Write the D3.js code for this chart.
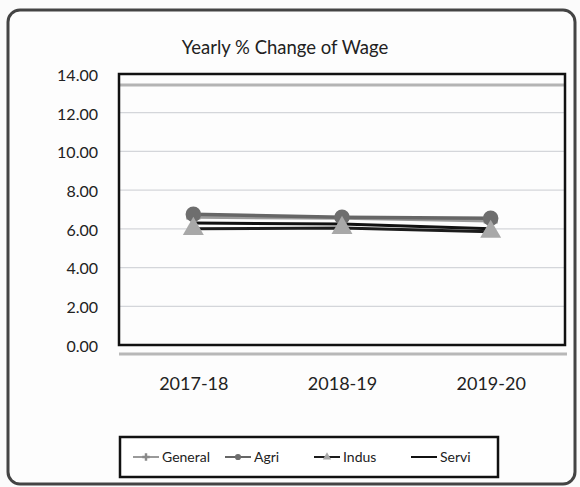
<!DOCTYPE html>
<html>
<head>
<meta charset="utf-8">
<script src="https://cdn.jsdelivr.net/npm/d3@7"></script>
<style>
    body { margin: 0; background: #fbfbfb; }
    text { font-family: Lato, "Open Sans", sans-serif; fill: #222; }
</style>
</head>
<body>
<div id="chart"></div>
<script>
// data
const years = ["2017-18", "2018-19", "2019-20"];
const general = [6.6, 6.55, 6.4];
const agri = [6.75, 6.6, 6.55];
const indus = [6.0, 6.05, 5.85];
const servi = [6.3, 6.25, 6.0];
const y_ticks = [0, 2, 4, 6, 8, 10, 12, 14];

const series = [
    {name: "General", values: general, line: "#9a9a9a", width: 3, marker: "plus", mark_fill: "#8a8a8a"},
    {name: "Agri", values: agri, line: "#666", width: 3.5, marker: "circle", mark_fill: "#6e6e6e"},
    {name: "Indus", values: indus, line: "#1c1c1c", width: 3, marker: "triangle", mark_fill: "#a8a8a8"},
    {name: "Servi", values: servi, line: "#111", width: 3, marker: "none", mark_fill: "#111"}
];

// constans
const width = 580, height = 487;
const plot = {left: 119, right: 565, top: 74, bottom: 345};

const svg = d3.select("#chart")
    .append("svg")
    .attr("width", width)
    .attr("height", height)
    .style("display", "block");

// outer frame
svg.append("rect")
    .attr("x", 8).attr("y", 10)
    .attr("width", 567).attr("height", 474)
    .attr("rx", 12)
    .attr("fill", "#fdfdfd")
    .attr("stroke", "#444")
    .attr("stroke-width", 3);

svg.append("text")
    .attr("x", 285).attr("y", 54)
    .attr("text-anchor", "middle")
    .style("font-size", "18.5px")
    .text("Yearly % Change of Wage");

// scales
const x = d3.scalePoint().domain(years).range([plot.left, plot.right]).padding(0.5);
const y = d3.scaleLinear().domain([0, 14]).range([plot.bottom, plot.top]);

// grid
svg.append("g")
    .selectAll("line")
    .data(y_ticks.slice(1, -1))
    .enter().append("line")
    .attr("x1", plot.left).attr("x2", plot.right)
    .attr("y1", d => y(d)).attr("y2", d => y(d))
    .attr("stroke", "#d4d6da")
    .attr("stroke-width", 1.2);

// y labels
const y_axis = svg.append("g")
    .attr("transform", "translate(" + (plot.left - 18) + ",0)")
    .call(d3.axisLeft(y).tickValues(y_ticks).tickFormat(d3.format(".2f")).tickSize(0));
y_axis.select(".domain").remove();
y_axis.selectAll("text").style("font-size", "16px").attr("dx", 0).attr("dy", "0.4em");

// x labels
const x_axis = svg.append("g")
    .attr("transform", "translate(0," + (plot.bottom + 26) + ")")
    .call(d3.axisBottom(x).tickSize(0));
x_axis.select(".domain").remove();
x_axis.selectAll("text").style("font-size", "18px").attr("dy", "0.9em");

// shaded bands inside the frame (scan shadow)
svg.append("line")
    .attr("x1", plot.left).attr("x2", plot.right)
    .attr("y1", plot.top + 11).attr("y2", plot.top + 11)
    .attr("stroke", "#b4b4b4").attr("stroke-width", 3);
svg.append("line")
    .attr("x1", plot.left).attr("x2", plot.right + 2)
    .attr("y1", plot.bottom + 9).attr("y2", plot.bottom + 9)
    .attr("stroke", "#b8b8b8").attr("stroke-width", 3);

// plot frame
svg.append("rect")
    .attr("x", plot.left).attr("y", plot.top)
    .attr("width", plot.right - plot.left).attr("height", plot.bottom - plot.top)
    .attr("fill", "none")
    .attr("stroke", "#111")
    .attr("stroke-width", 2.5);

// lines
const line = d3.line()
    .x((d, i) => x(years[i]))
    .y(d => y(d));

svg.append("g")
    .selectAll("path")
    .data(series)
    .enter().append("path")
    .attr("d", d => line(d.values))
    .attr("fill", "none")
    .attr("stroke", d => d.line)
    .attr("stroke-width", d => d.width);

// markers
function marker_path(kind, size) {
    if (kind == "circle") return d3.symbol(d3.symbolCircle, size)();
    if (kind == "triangle") return d3.symbol(d3.symbolTriangle, size)();
    if (kind == "plus") return d3.symbol(d3.symbolCross, size)();
    return null;
}

series.filter(s => s.marker != "none").forEach(function(s) {
    svg.append("g")
        .selectAll("path")
        .data(s.values)
        .enter().append("path")
        .attr("transform", (d, i) => "translate(" + x(years[i]) + "," + y(d) + ")")
        .attr("d", marker_path(s.marker, s.marker == "plus" ? 110 : 190))
        .attr("fill", s.mark_fill);
});

// legend
const legend_box = {x: 120, y: 437, w: 378, h: 40};
svg.append("rect")
    .attr("x", legend_box.x).attr("y", legend_box.y)
    .attr("width", legend_box.w).attr("height", legend_box.h)
    .attr("fill", "#fff")
    .attr("stroke", "#111")
    .attr("stroke-width", 2.5);

const legend_x = [133, 225, 314, 411];
const legend = svg.append("g")
    .selectAll("g")
    .data(series)
    .enter().append("g")
    .attr("transform", (d, i) => "translate(" + legend_x[i] + "," + (legend_box.y + 20) + ")");

legend.append("line")
    .attr("x1", 0).attr("x2", 26)
    .attr("stroke", d => d.line)
    .attr("stroke-width", 2);
legend.filter(d => d.marker != "none").append("path")
    .attr("transform", "translate(13,0)")
    .attr("d", d => marker_path(d.marker, 30))
    .attr("fill", d => d.mark_fill);
legend.append("text")
    .attr("x", 29).attr("y", 5)
    .style("font-size", "14px")
    .text(d => d.name);
</script>
</body>
</html>
